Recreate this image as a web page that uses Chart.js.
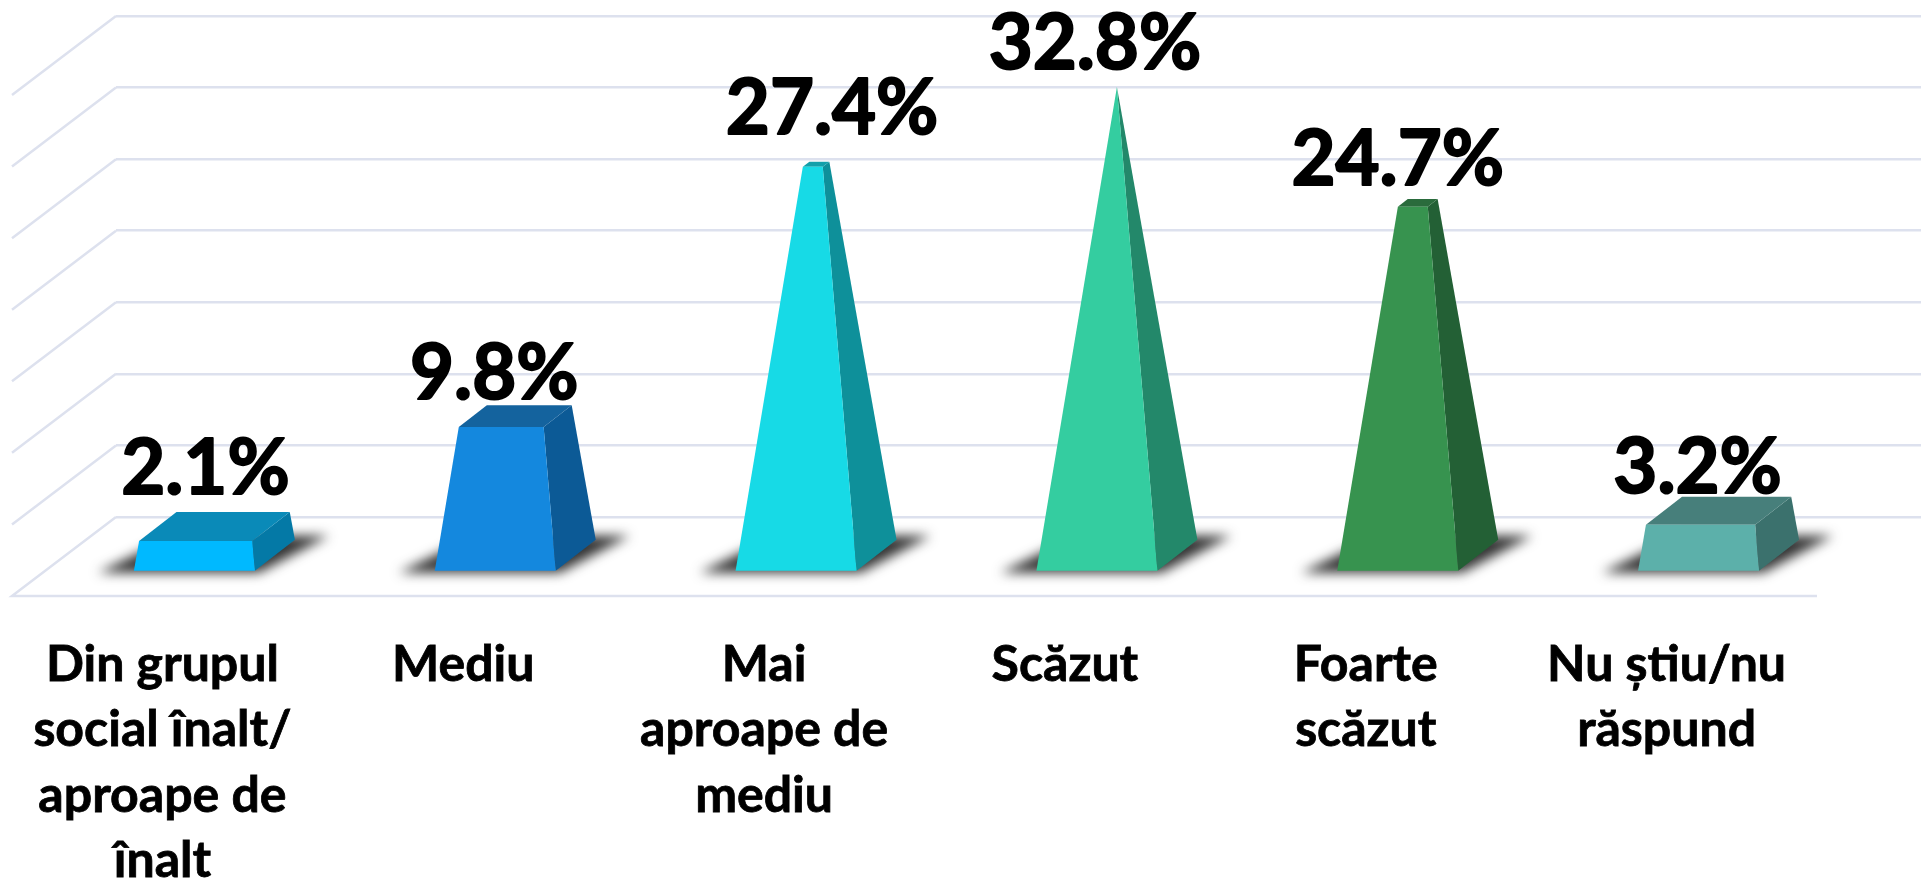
<!DOCTYPE html>
<html><head><meta charset="utf-8">
<style>html,body{margin:0;padding:0;background:#fff;overflow:hidden}canvas{display:block}</style>
<script src="https://cdn.jsdelivr.net/npm/chart.js@4/dist/chart.umd.min.js"></script>
</head><body>
<canvas id="c" width="1921" height="878"></canvas>
<script>
const categories = [
  ["Din grupul","social înalt/","aproape de","înalt"],
  ["Mediu"],
  ["Mai","aproape de","mediu"],
  ["Scăzut"],
  ["Foarte","scăzut"],
  ["Nu știu/nu","răspund"]
];
const values = [2.1, 9.8, 27.4, 32.8, 24.7, 3.2];
const valueLabels = ["2.1%","9.8%","27.4%","32.8%","24.7%","3.2%"];
const frontColors = ["#00B9FF","#1488DE","#17DAE6","#34CDA0","#37934F","#5CB0AA"];
const topColors   = ["#0A8AB8","#14639E","#12A0AA","#2A9A78","#2A6B3C","#477F7B"];
const sideColors  = ["#0479A6","#0C5A96","#0E909A","#23886A","#236035","#3B716D"];
const labelShiftX = [-9,-21,16,-22,-20,-21];
const labelBaselines = [494,399,134,69,185,493];

const GRID = "#DDE1EE";
const WALL_DX = 104, WALL_DY = 79;      // floor depth (back wall to front edge)
const FLOOR_RIGHT = 1817;
const HALF_W = 60.5, DEPTH_DX = 40, DEPTH_DY = 31;

function poly(ctx, pts, fill){
  ctx.beginPath();
  pts.forEach((p,i)=> i?ctx.lineTo(p[0],p[1]):ctx.moveTo(p[0],p[1]));
  ctx.closePath();
  ctx.fillStyle = fill;
  ctx.fill();
}

const perspective = {
  id:"perspective",
  beforeDatasetsDraw(chart){
    const ctx = chart.ctx, y = chart.scales.y;
    ctx.save();
    ctx.strokeStyle = GRID; ctx.lineWidth = 2.5;
    y.ticks.forEach(t=>{
      const py = y.getPixelForValue(t.value);
      ctx.beginPath();
      ctx.moveTo(chart.chartArea.left, py);
      ctx.lineTo(chart.chartArea.left-WALL_DX, py+WALL_DY);
      if(t.value===0) ctx.lineTo(FLOOR_RIGHT, py+WALL_DY);
      ctx.stroke();
    });
    ctx.restore();
  },
  beforeDatasetDraw(chart, args){
    const ctx = chart.ctx, meta = args.meta, vmax = Math.max(...values);
    const els = meta.data;
    ctx.save();
    ctx.filter = "blur(6px)";
    els.forEach(el=>{
      const cx = el.x-WALL_DX/2, by = el.base+WALL_DY/2;
      const fy = by+DEPTH_DY/2+2, ry = by-DEPTH_DY/2-4;
      poly(ctx,[[cx-HALF_W-DEPTH_DX/2-36,fy],[cx+HALF_W-DEPTH_DX/2+4,fy],
                [cx+HALF_W+DEPTH_DX/2+34,ry],[cx-HALF_W+DEPTH_DX/2+0,ry]],"rgba(35,35,35,0.92)");
    });
    ctx.restore();
    els.forEach((el,i)=>{
      const cx = el.x-WALL_DX/2, by = el.base+WALL_DY/2, ty = el.y+WALL_DY/2;
      const k = 1-values[i]/vmax;
      const f = (sx,sy,y0,s)=>[cx+sx*HALF_W*s+sy*DEPTH_DX/2*s, y0-sy*DEPTH_DY/2*s];
      const bfl=f(-1,-1,by,1), bfr=f(1,-1,by,1), bbr=f(1,1,by,1);
      const tfl=f(-1,-1,ty,k), tfr=f(1,-1,ty,k), tbr=f(1,1,ty,k), tbl=f(-1,1,ty,k);
      poly(ctx,[bfr,bbr,tbr,tfr],sideColors[i]);
      if(k>0) poly(ctx,[tfl,tfr,tbr,tbl],topColors[i]);
      poly(ctx,[bfl,bfr,tfr,tfl],frontColors[i]);
    });
    return false;
  },
  afterDatasetsDraw(chart){
    const ctx = chart.ctx, els = chart.getDatasetMeta(0).data;
    ctx.save();
    ctx.font = "bold 76px Lato";
    ctx.fillStyle = "#000";
    ctx.strokeStyle = "#000";
    ctx.lineWidth = 2;
    ctx.lineJoin = "round";
    ctx.textAlign = "center";
    ctx.textBaseline = "alphabetic";
    els.forEach((el,i)=>{
      const x = el.x-WALL_DX/2+labelShiftX[i];
      ctx.strokeText(valueLabels[i], x, labelBaselines[i]);
      ctx.fillText(valueLabels[i], x, labelBaselines[i]);
    });
    ctx.restore();
  }
};

new Chart(document.getElementById("c"),{
  type:"bar",
  data:{labels:categories,datasets:[{data:values,backgroundColor:frontColors,borderWidth:0}]},
  options:{
    responsive:false,animation:false,devicePixelRatio:1,
    layout:{padding:{top:16,left:0,right:0,bottom:0}},
    plugins:{legend:{display:false},tooltip:{enabled:false}},
    scales:{
      x:{
        grid:{display:false},border:{display:false},
        afterFit(s){s.height=361;s.paddingLeft=0;s.paddingRight=0;},
        ticks:{autoSkip:false,maxRotation:0,minRotation:0,padding:107,labelOffset:-WALL_DX,
          color:"#000",textStrokeColor:"#000",textStrokeWidth:0.8,
          font:{family:"Lato",weight:"bold",size:50,lineHeight:1.31}}
      },
      y:{
        min:0,max:35,
        afterFit(s){s.width=116;},
        grid:{color:GRID,lineWidth:2.5,drawTicks:false},border:{display:false},
        ticks:{display:false,stepSize:5}
      }
    }
  },
  plugins:[perspective]
});
</script>
</body></html>
